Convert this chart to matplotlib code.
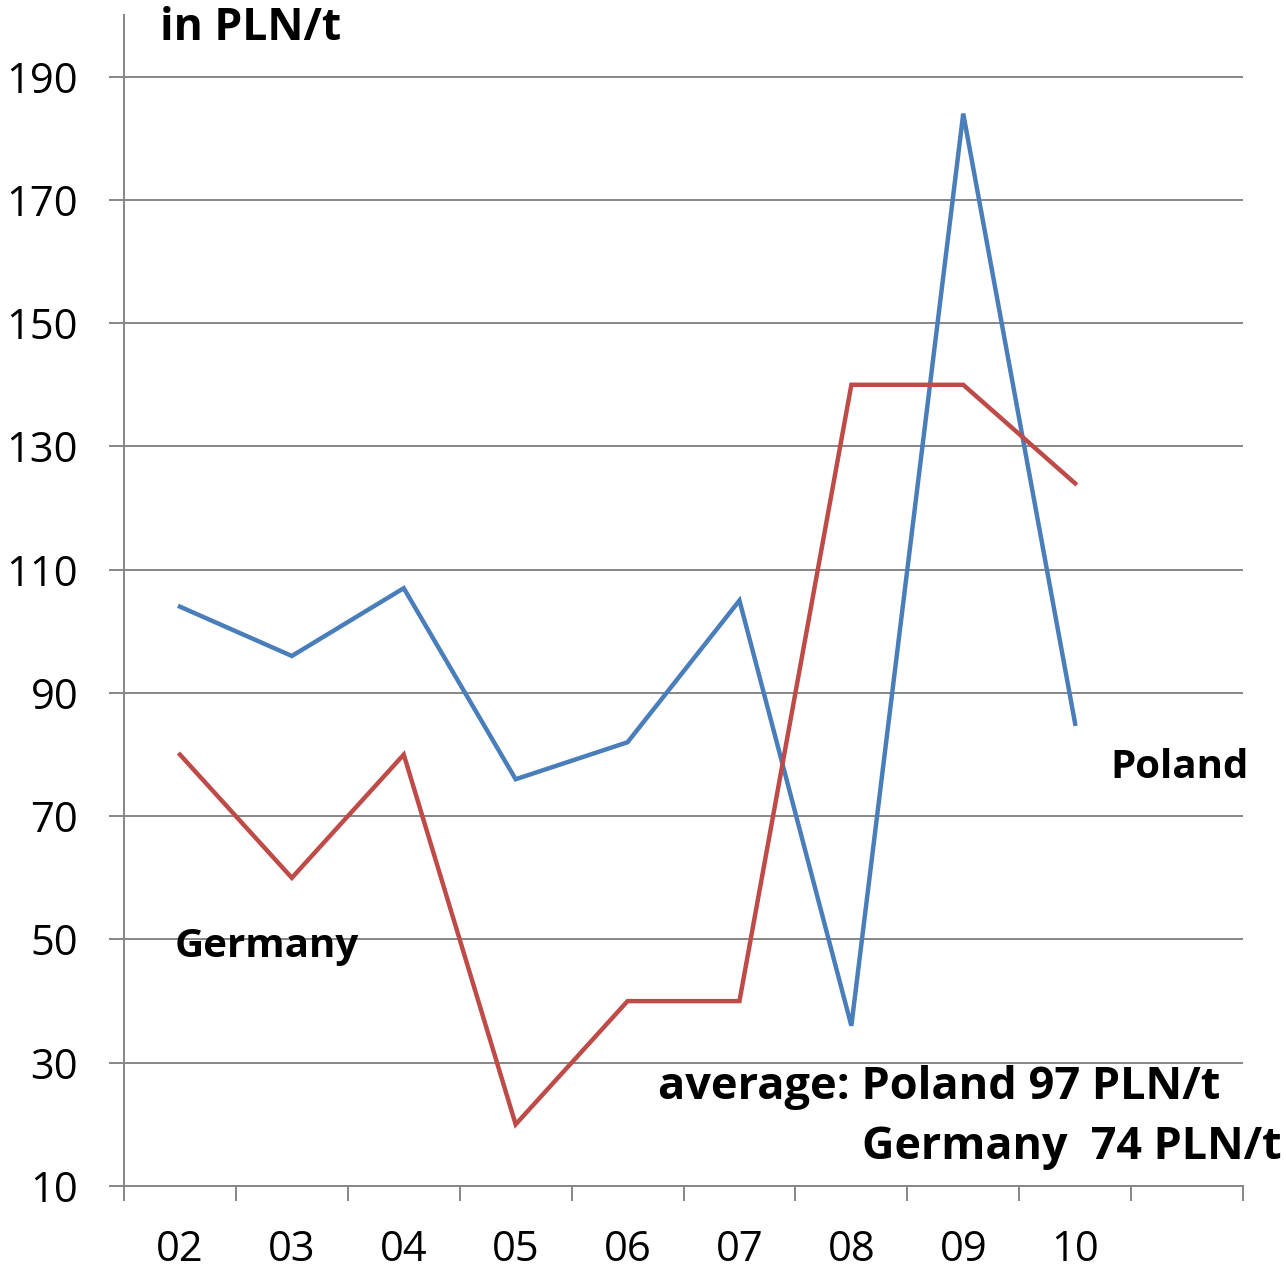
import matplotlib
matplotlib.use("Agg")
import matplotlib.pyplot as plt
import numpy as np

years = ["02", "03", "04", "05", "06", "07", "08", "09", "10"]
poland = [104, 96, 107, 76, 82, 105, 36, 184, 85]
germany = [80, 60, 80, 20, 40, 40, 140, 140, 124]
yticks = [10, 30, 50, 70, 90, 110, 130, 150, 170, 190]

W, H = 1286, 1270
plt.rcParams['font.family'] = ['Open Sans', 'DejaVu Sans']
fig = plt.figure(figsize=(W / 100, H / 100), dpi=100)
ax = fig.add_axes([124 / W, 84 / H, (1243 - 124) / W, (1255 - 84) / H])

grid_c = '#868686'
x = np.arange(len(years))
ax.plot(x, poland, color='#4A7EBB', lw=3.2, solid_joinstyle='miter', zorder=3)
ax.plot(x, germany, color='#BE4B48', lw=3.2, solid_joinstyle='miter', zorder=3)

ax.set_xlim(-0.5, 9.5)
ax.set_ylim(10, 200)
ax.set_yticks(yticks)
ax.set_yticklabels([str(v) for v in yticks], fontsize=30)
for v in yticks:
    ax.axhline(v, color=grid_c, lw=1.4, zorder=1)

ax.set_xticks(np.arange(-0.5, 10.0, 1.0))
ax.set_xticklabels([])
ax.set_xticks(x, minor=True)
ax.set_xticklabels(years, minor=True, fontsize=30)
ax.tick_params(axis='x', which='major', length=11, width=1.4, color=grid_c, direction='out')
ax.tick_params(axis='x', which='minor', length=0, pad=31)
ax.tick_params(axis='y', length=11, width=1.4, color=grid_c, direction='out', pad=22)

for s in ['top', 'right']:
    ax.spines[s].set_visible(False)
for s in ['left', 'bottom']:
    ax.spines[s].set_color(grid_c)
    ax.spines[s].set_linewidth(1.4)

def ftext(px, py, s, size):
    fig.text(px / W, 1 - py / H, s, fontsize=size, fontweight='bold', va='center', ha='left')

ftext(160, 28, "in PLN/t", 32)
ftext(1110, 767, "Poland", 29)
ftext(175, 947, "Germany", 29)
ftext(658, 1087, "average: Poland 97 PLN/t", 32.5)
ftext(862, 1148, "Germany  74 PLN/t", 32.3)

fig.savefig("out.png", dpi=100)
